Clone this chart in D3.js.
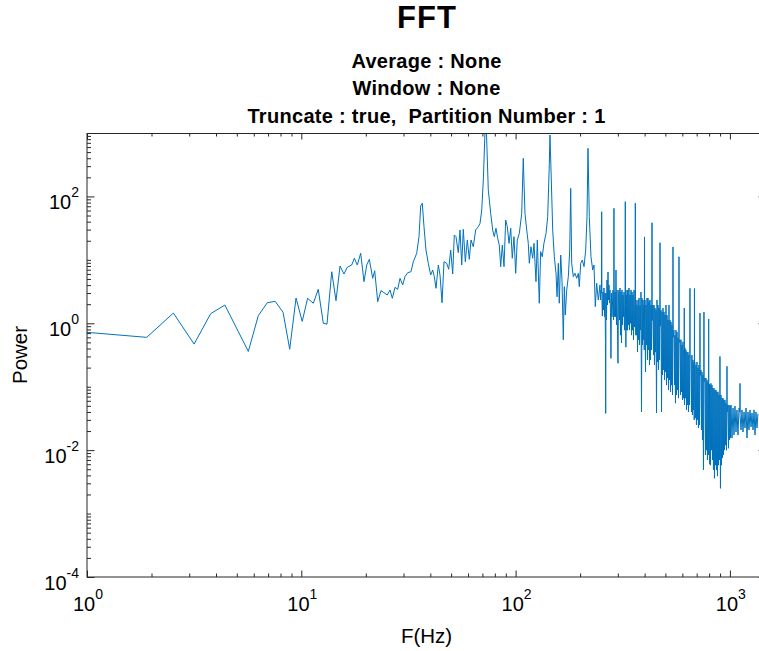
<!DOCTYPE html>
<html>
<head>
<meta charset="utf-8">
<script src="https://cdn.jsdelivr.net/npm/d3@7"></script>
<style>
  body { margin: 0; background: #fff; }
  svg { display: block; }
  text { font-family: "Liberation Sans", Arial, Helvetica, sans-serif; fill: #000; white-space: pre; }
</style>
</head>
<body>
<svg id="chart" width="759" height="651"></svg>
<script>
// ---- labels ----
const titleText = "FFT";
const subtitleLines = ["Average : None", "Window : None", "Truncate : true,  Partition Number : 1"];
const xLabel = "F(Hz)";
const yLabel = "Power";

// ---- axis limits and tick decades ----
const xDomain = [1, 1474];
const yDomain = [1e-4, 1e3];
const xTickExponents = [0, 1, 2, 3];
const yTickExponents = [-4, -2, 0, 2];

// ---- power spectrum, [frequency Hz, power] ----
const lowBand = [
  [1.00,0.72],[1.90,0.60],[2.53,1.45],[3.16,0.47],[3.78,1.42],[4.40,1.94],[5.66,0.36],
  [6.30,1.32],[6.94,2.11],[7.55,2.22],[8.22,1.49],[8.83,0.39],[9.45,2.50],[10.1,1.07],
  [10.7,2.48],[11.38,2.07]
];

const midBand = [
  [12.0,3.43],[12.67,1.0],[13.18,0.97],[13.87,6.5],[14.52,2.27],[15.16,8.0],[15.82,5.98],
  [16.39,7.64],[17.19,8.3],[17.68,10.6],[18.25,8.3],[18.93,12.7],[19.62,4.53],[20.2,8.3],
  [20.77,10.2],[21.54,5.12],[22.0,6.75],[22.73,2.19],[23.55,3.27],[24.32,3.04],[25.19,2.79],
  [25.94,3.35],[26.59,2.48],[27.37,3.69],[28.18,3.43],[28.88,5.12],[29.73,4.02],[30.47,5.43],
  [31.37,6.28],[32.5,6.5],[33.31,9.35],[34.56,12.7],[35.42,23.2],[36.07,70.6],[36.7,78],
  [37.37,33.3],[38.18,14.3],[39.14,8.83],[40.16,5.77],[41.04,6.92],[41.75,5.43],[42.53,3.56],
  [43.59,8.3],[44.39,5.77],[45.36,2.11],[46.34,9.35],[47.7,8.83],[48.73,7.1],[49.79,14.3],
  [50.87,5.98],[51.76,24.7],[52.71,23.2],[54.03,13.0],[55.03,29.6],[56.05,8.3],[57.02,30.3],
  [58.26,9.35],[59.53,20.6],[60.81,10.2],[61.93,20.6],[63.48,16.1],[65.14,29.6],[66.98,33.3],
  [68.23,37.7],[69.49,61],[70.7,182],[71.77,776],[72.54,2500],[73.31,776],[74.59,126],
  [76.53,54.2],[78.19,29.6],[79.55,23.2],[81.01,31.5],[82.5,21.9],[83.93,17.1],[85.2,7.8],
  [86.7,17.1],[88.3,7.8],[89.9,42.5],[91.5,33.3],[93.2,18.2],[94.9,31.5],[96.5,10.6],
  [98.3,23.2],[100.1,6.14],[101.8,20.6],[104.1,26.2],[106.8,54.2],[108.6,399],[110.6,54.2],
  [112.7,29.6],[114.6,18.2],[115.9,8.83],[118.0,16.1],[120.2,10.6],[121.9,18.2],[124.5,4.53],
  [126.3,20.6],[129.0,2.07],[130.9,13.5],[133.2,11.2],[135.6,18.2],[138.7,26.2],[141.2,47.9],
  [143.7,333],[144.7,930],[146.3,261],[149.0,29.6],[151.6,11.2],[154.4,6.14],[156.1,2.62],
  [158.3,8.83],[159.9,2.07],[162.4,11.9],[164.6,4.82],[167.0,0.55],[168.8,3.78],[170.6,1.35],
  [173.2,3.35],[176.2,5.43],[178.9,14.3],[180.8,134],[182.7,8.83],[185.9,5.43],[189.3,6.14],
  [192.8,5.12],[196.2,6.14],[198.3,3.78],[201.3,8.83],[204.8,9.95],[208.6,7.8],[212.4,14.3],
  [215.4,47.9],[217.7,574],[220.8,47.9],[224.8,11.2],[229.0,6.92],[232.2,8.3],[235.5,1.83],
  [239.0,4.27],[243.2,2.33]
];

const highBand = [
  [247.6,4.02],[248.9,2.33],[250.3,3.35],[251.6,3.0],[252.2,57.4],[252.8,2.6],[254.0,1.30],
  [255.7,3.11],[257.1,1.62],[258.5,3.6],[259.9,1.27],[261.3,3.0],[262.7,0.5],[263.3,0.038],
  [264.1,3.0],[265.5,1.13],[267.0,4.82],[268.4,1.94],[269.9,6.44],[271.3,2.33],[272.8,4.02],
  [274.3,2.09],[275.7,3.35],[277.2,1.5],[278.6,0.28],[280.2,3.0],[281.7,1.27],[284.8,3.35],
  [286.3,1.13],[287.2,2.4],[287.8,65],[288.4,2.0],[289.6,1.27],[291.0,3.11],[292.6,1.27],
  [294.1,6.92],[295.7,0.94],[297.3,3.35],[298.9,0.78],[300.5,0.234],[302.1,2.79],[303.8,3.35],
  [305.4,1.13],[307.1,3.6],[308.8,0.65],[310.3,3.11],[312.0,0.49],[313.7,3.35],[315.4,0.94],
  [317.1,2.79],[318.8,1.27],[320.5,3.11],[322.2,0.78],[324.4,2.5],[325.0,82.6],[325.6,2.0],
  [327.0,0.42],[328.6,2.79],[329.9,0.78],[331.1,3.35],[332.9,0.78],[334.6,3.35],[336.4,0.94],
  [338.2,3.6],[340.0,0.78],[341.9,2.79],[343.7,1.0],[345.6,3.35],[347.5,0.65],[349.4,3.11],
  [351.3,0.78],[353.1,2.79],[355.0,0.55],[356.9,3.35],[358.8,0.875],[361.4,2.0],[362.0,78],
  [362.6,1.6],[363.7,0.65],[364.7,2.33],[366.7,0.65],[368.7,1.94],[370.7,0.352],[372.7,2.33],
  [374.7,0.55],[376.7,2.5],[378.7,0.455],[380.7,1.88],[382.7,0.78],
  [384.7,3.11],[386.8,0.040],[388.9,2.50],[391.0,0.455],[393.1,2.33],[395.2,0.55],
  [397.3,1.94],[398.4,0.38],[399.0,1.5],[399.5,23],[400.0,1.2],[401.6,2.33],[403.8,0.171],
  [406.0,1.94],[408.2,0.455],[410.4,2.50],[412.6,0.264],[414.8,2.50],[417.0,0.38],
  [419.3,2.2],[421.6,0.22],[423.8,2.33],[426.1,0.264],[428.4,1.94],[430.7,0.38],
  [432.4,1.4],[433.0,38.5],[433.6,1.1],[437.7,1.94],[440.1,0.316],[442.4,1.94],[444.8,0.22],
  [447.2,1.74],[449.6,0.352],[452.1,1.62],[454.5,0.0385],[456.9,2.33],[459.4,0.245],
  [461.9,1.94],[464.4,0.184],[466.9,1.74],[469.4,0.264],[471.3,1.2],[471.9,18.6],[472.5,0.9],
  [477.1,1.62],[479.7,0.040],[482.2,1.51],[484.8,0.153],[487.4,1.74],[490.0,0.184],
  [492.7,1.51],[495.4,0.128],[497.9,1.35],[500.6,0.171],[503.3,1.94],[506.0,0.106],
  [508.8,1.35],[511.5,0.137],[514.2,1.13],[517.0,0.089],[519.8,1.94],[522.6,0.128],
  [525.4,1.13],[528.2,0.083],[531.0,1.05],[533.9,0.106],[536.8,0.94],[539.7,0.074],
  [542.0,0.8],[542.6,16],[543.2,0.6],[548.5,0.78],[551.5,0.106],[554.3,0.65],[557.3,0.055],
  [560.4,0.78],[563.4,0.074],[566.5,0.73],[569.6,0.089],[572.5,0.59],[575.6,0.066],
  [578.1,0.6],[578.7,11.2],[579.3,0.5],[585.0,0.55],[588.2,0.074],[591.2,0.55],[594.4,0.083],
  [597.6,0.455],[600.8,0.062],[604.1,0.51],[607.4,0.066],[610.6,0.38],[612.0,0.3],[612.5,1.74],
  [613.0,0.2],[613.9,0.0515],[617.2,0.41],[620.5,0.066],[623.8,0.38],[627.2,0.043],
  [630.5,0.352],[633.9,0.0515],[637.4,0.352],[640.8,0.040],[644.2,0.316],[647.7,0.0515],
  [650.6,0.35],[651.2,3.56],[651.8,0.3],[658.2,0.28],[661.7,0.040],[665.2,0.316],[668.8,0.0358],
  [672.5,0.264],[676.1,0.043],[679.7,0.245],[681.5,0.0299],[682.8,0.3],[683.4,3.54],[684.0,0.25],
  [687.1,0.245],[690.8,0.032],[694.5,0.22],[698.2,0.0249],[702.1,0.245],[705.9,0.0299],
  [709.6,0.197],[713.4,0.0224],[717.3,0.22],[721.2,0.0249],[724.5,0.2],[725.1,1.45],[725.7,0.15],
  [732.8,0.184],[736.8,0.0208],[740.8,0.171],[744.8,0.0145],[748.8,0.153],[752.8,0.0049],
  [756.2,0.15],[756.8,1.5],[757.4,0.12],[765.0,0.137],[769.1,0.0084],[773.3,0.137],[777.5,0.010],
  [781.6,0.128],[785.8,0.007],[790.2,0.118],[794.4,0.0084],[795.5,0.12],[796.1,1.17],[796.7,0.1],
  [803.0,0.11],[805.1,0.006],[807.2,0.106],[811.6,0.0058],[816.0,0.113],[820.4,0.010],
  [824.9,0.106],[829.3,0.007],[833.7,0.095],[838.2,0.0049],[842.7,0.095],[847.2,0.0036],
  [852.0,0.089],[856.6,0.0058],[861.0,0.089],[865.6,0.0049],[870.4,0.083],[875.1,0.0039],
  [879.8,0.083],[884.5,0.0058],[889.2,0.074],[894.0,0.007],[898.2,0.08],[898.8,0.30],[899.4,0.06],
  [903.6,0.0025],[908.6,0.074],[913.5,0.0058],[918.3,0.066],[923.3,0.0075],[928.3,0.066],
  [933.3,0.0084],[938.3,0.062],[943.4,0.010],[948.6,0.062],[953.7,0.012],[958.8,0.055],
  [964.0,0.010],[968.8,0.05],[969.4,0.21],[970.0,0.04],[979.7,0.0515],[985.0,0.0107],
  [990.4,0.0515],[995.7,0.0145],[1001,0.0497],[1006.4,0.0155],
  [1012,0.0515],[1023,0.0155],[1034,0.0462],[1045,0.0173],[1056,0.0497],[1068,0.0193],
  [1079,0.043],[1091,0.0173],[1103,0.0462],[1114.4,0.04],[1115,0.113],[1115.6,0.035],
  [1127,0.0208],[1139,0.043],[1151,0.0193],[1164,0.040],[1176,0.0224],[1189,0.0462],
  [1202,0.0155],[1215,0.040],[1228,0.0208],[1241,0.043],[1255,0.0232],[1268,0.0385],
  [1282,0.0208],[1296,0.043],[1310,0.0173],[1324,0.040],[1338,0.0224],[1352,0.0372]
];

// ---- layout ----
const svg = d3.select("#chart");
const box = { left: 87, right: 766, top: 133, bottom: 577 };
const axisColor = "#262626";
const lineColor = "#0072BD";

const x = d3.scaleLog().domain(xDomain).range([box.left, box.right]);
const y = d3.scaleLog().domain(yDomain).range([box.bottom, box.top]);

// minor ticks at 2..9 of every decade, majors at labelled decades
function decadeTicks(domain) {
  const lo = Math.floor(Math.log10(domain[0])), hi = Math.ceil(Math.log10(domain[1]));
  const all = [];
  for (let e = lo; e <= hi; e++) for (let m = 1; m <= 9; m++) {
    const v = m * Math.pow(10, e);
    if (v >= domain[0] * 0.999 && v <= domain[1] * 1.001) all.push(v);
  }
  return all;
}
const xMajor = xTickExponents.map(e => Math.pow(10, e));
const yMajor = yTickExponents.map(e => Math.pow(10, e));
const isMajor = (v, list) => list.some(m => Math.abs(Math.log10(v) - Math.log10(m)) < 1e-6);
const xMinor = decadeTicks(xDomain).filter(v => !isMajor(v, xMajor));
const yMinor = decadeTicks(yDomain).filter(v => !isMajor(v, yMajor));

// ---- data line ----
svg.append("defs").append("clipPath").attr("id", "plotClip")
  .append("rect")
  .attr("x", box.left).attr("y", box.top)
  .attr("width", box.right - box.left).attr("height", box.bottom - box.top);

const spectrum = lowBand.concat(midBand, highBand);
const line = d3.line().x(d => x(d[0])).y(d => y(d[1]));
svg.append("path")
  .datum(spectrum)
  .attr("clip-path", "url(#plotClip)")
  .attr("fill", "none")
  .attr("stroke", lineColor)
  .attr("stroke-width", 1)
  .attr("stroke-linejoin", "miter")
  .attr("d", line);

// ---- axes (ticks inward on all four sides) ----
function styleAxis(g) {
  g.select(".domain").remove();
  g.selectAll(".tick line").attr("stroke", axisColor).attr("stroke-width", 1);
  g.selectAll(".tick text").remove();
}
const xMajLen = 6.5, xMinLen = 3.5, yMajLen = 7.5, yMinLen = 4;

svg.append("g").attr("transform", `translate(0,${box.bottom})`)
  .call(d3.axisBottom(x).tickValues(xMajor).tickSizeInner(-xMajLen).tickSizeOuter(0)).call(styleAxis);
svg.append("g").attr("transform", `translate(0,${box.bottom})`)
  .call(d3.axisBottom(x).tickValues(xMinor).tickSizeInner(-xMinLen).tickSizeOuter(0)).call(styleAxis);
svg.append("g").attr("transform", `translate(0,${box.top})`)
  .call(d3.axisTop(x).tickValues(xMajor).tickSizeInner(-xMajLen).tickSizeOuter(0)).call(styleAxis);
svg.append("g").attr("transform", `translate(0,${box.top})`)
  .call(d3.axisTop(x).tickValues(xMinor).tickSizeInner(-xMinLen).tickSizeOuter(0)).call(styleAxis);
svg.append("g").attr("transform", `translate(${box.left},0)`)
  .call(d3.axisLeft(y).tickValues(yMajor).tickSizeInner(-yMajLen).tickSizeOuter(0)).call(styleAxis);
svg.append("g").attr("transform", `translate(${box.left},0)`)
  .call(d3.axisLeft(y).tickValues(yMinor).tickSizeInner(-yMinLen).tickSizeOuter(0)).call(styleAxis);
svg.append("g").attr("transform", `translate(${box.right},0)`)
  .call(d3.axisRight(y).tickValues(yMajor).tickSizeInner(-yMajLen).tickSizeOuter(0)).call(styleAxis);
svg.append("g").attr("transform", `translate(${box.right},0)`)
  .call(d3.axisRight(y).tickValues(yMinor).tickSizeInner(-yMinLen).tickSizeOuter(0)).call(styleAxis);

svg.append("rect")
  .attr("x", box.left).attr("y", box.top + 0.5)
  .attr("width", box.right - box.left).attr("height", box.bottom - box.top - 0.5)
  .attr("fill", "none").attr("stroke", axisColor).attr("stroke-width", 1);

// ---- tick labels as 10 with superscript exponent ----
const tickFont = 20, supFont = 14;
function powerLabel(g, e) {
  g.append("tspan").text("10");
  g.append("tspan").attr("dy", -12).attr("font-size", supFont).text(e);
}
xTickExponents.forEach(e => {
  const t = svg.append("text")
    .attr("x", x(Math.pow(10, e)) + 1)
    .attr("y", 611)
    .attr("text-anchor", "middle")
    .attr("font-size", tickFont)
    .attr("fill", axisColor);
  powerLabel(t, e);
});
yTickExponents.forEach(e => {
  const t = svg.append("text")
    .attr("x", 79)
    .attr("y", y(Math.pow(10, e)) + 13)
    .attr("text-anchor", "end")
    .attr("font-size", tickFont)
    .attr("fill", axisColor);
  powerLabel(t, e);
});

// ---- axis labels ----
const cx = (box.left + box.right) / 2;
svg.append("text")
  .attr("x", cx).attr("y", 643)
  .attr("text-anchor", "middle")
  .attr("font-size", 20.5)
  .attr("fill", axisColor)
  .text(xLabel);
svg.append("text")
  .attr("transform", `translate(27,${(box.top + box.bottom) / 2}) rotate(-90)`)
  .attr("text-anchor", "middle")
  .attr("font-size", 20.5)
  .attr("fill", axisColor)
  .text(yLabel);

// ---- title block ----
svg.append("text")
  .attr("x", cx + 0.5).attr("y", 28)
  .attr("text-anchor", "middle")
  .attr("font-size", 31)
  .attr("font-weight", "bold")
  .attr("letter-spacing", 1)
  .text(titleText);
subtitleLines.forEach((s, i) => {
  svg.append("text")
    .attr("x", cx).attr("y", 68 + i * 27.3)
    .attr("text-anchor", "middle")
    .attr("font-size", 20)
    .attr("font-weight", "bold")
    .attr("letter-spacing", 0.3)
    .text(s);
});
</script>
</body>
</html>
